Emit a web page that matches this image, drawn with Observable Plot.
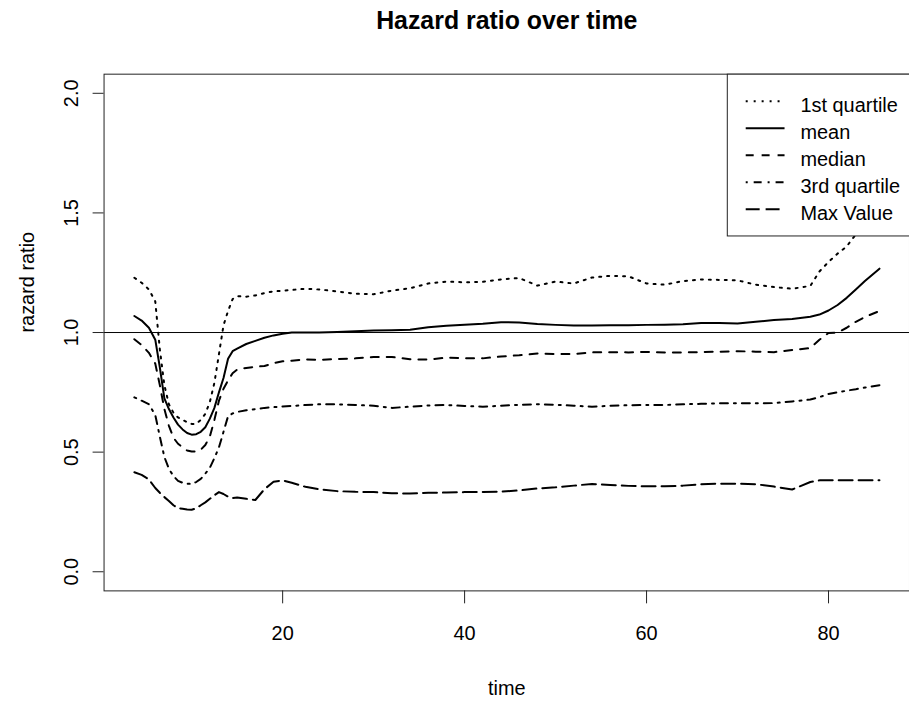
<!DOCTYPE html>
<html>
<head>
<meta charset="utf-8">
<script src="https://cdn.jsdelivr.net/npm/d3@7"></script>
<script src="https://cdn.jsdelivr.net/npm/@observablehq/plot@0.6"></script>
<style>
  html, body { margin: 0; padding: 0; background: #fff; overflow: hidden; }
  #chart svg { display: block; }
</style>
</head>
<body>
<div id="chart"></div>
<script>
// Hazard ratio summaries over follow-up time
const time = [3.7, 4.5, 5.3, 6.0, 6.5, 7.0, 7.5, 8.0, 8.5, 9.0,
  9.5, 10, 10.5, 11, 11.5, 12, 12.5, 13, 13.5, 14,
  14.5, 15, 16, 17, 18, 19, 20, 21, 22.5, 24,
  26, 28, 30, 32, 34, 36, 38, 40, 42, 44,
  46, 48, 50, 52, 54, 56, 58, 60, 62, 64,
  66, 68, 70, 72, 74, 76, 78, 79, 80, 81,
  82, 83, 84, 85.6];

const firstQuartile = [1.229, 1.208, 1.18, 1.13, 0.93, 0.78, 0.70, 0.665, 0.645, 0.635,
  0.625, 0.618, 0.618, 0.635, 0.66, 0.71, 0.79, 0.91, 1.03, 1.09,
  1.14, 1.152, 1.15, 1.155, 1.165, 1.172, 1.175, 1.178, 1.183, 1.18,
  1.172, 1.162, 1.16, 1.175, 1.185, 1.205, 1.213, 1.21, 1.212, 1.222,
  1.228, 1.196, 1.213, 1.205, 1.23, 1.237, 1.235, 1.205, 1.2, 1.215,
  1.222, 1.22, 1.218, 1.2, 1.19, 1.183, 1.195, 1.255, 1.295, 1.33,
  1.36, 1.41, 1.46, 1.55];

const mean = [1.069, 1.05, 1.02, 0.97, 0.855, 0.725, 0.68, 0.645, 0.615, 0.595,
  0.58, 0.573, 0.575, 0.585, 0.604, 0.64, 0.685, 0.75, 0.81, 0.89,
  0.922, 0.933, 0.952, 0.965, 0.978, 0.988, 0.995, 1.0, 1.0, 1.0,
  1.002, 1.005, 1.008, 1.01, 1.012, 1.022, 1.028, 1.033, 1.037, 1.043,
  1.042, 1.036, 1.032, 1.029, 1.029, 1.03, 1.03, 1.032, 1.033, 1.035,
  1.04, 1.04, 1.038, 1.045, 1.052, 1.057, 1.066, 1.075, 1.092, 1.115,
  1.145, 1.18, 1.215, 1.267];

const median = [0.972, 0.948, 0.915, 0.87, 0.78, 0.68, 0.61, 0.56, 0.535, 0.52,
  0.507, 0.503, 0.503, 0.51, 0.53, 0.565, 0.635, 0.715, 0.765, 0.80,
  0.83, 0.845, 0.852, 0.857, 0.86, 0.872, 0.88, 0.882, 0.888, 0.886,
  0.889, 0.892, 0.898, 0.898, 0.888, 0.887, 0.895, 0.893, 0.892, 0.9,
  0.905, 0.912, 0.91, 0.91, 0.917, 0.918, 0.917, 0.919, 0.917, 0.917,
  0.918, 0.92, 0.922, 0.92, 0.918, 0.927, 0.935, 0.97, 0.998, 1.0,
  1.02, 1.045, 1.065, 1.09];

const thirdQuartile = [0.729, 0.715, 0.70, 0.655, 0.565, 0.48, 0.43, 0.40, 0.38, 0.372,
  0.368, 0.367, 0.375, 0.388, 0.41, 0.435, 0.475, 0.52, 0.585, 0.65,
  0.662, 0.668, 0.675, 0.68, 0.685, 0.688, 0.691, 0.693, 0.697, 0.70,
  0.70, 0.697, 0.694, 0.685, 0.69, 0.695, 0.697, 0.693, 0.69, 0.694,
  0.698, 0.70, 0.698, 0.694, 0.69, 0.694, 0.696, 0.697, 0.697, 0.70,
  0.702, 0.704, 0.704, 0.704, 0.705, 0.712, 0.72, 0.73, 0.743, 0.75,
  0.757, 0.763, 0.77, 0.78];

const maxValue = [0.416, 0.405, 0.386, 0.35, 0.33, 0.312, 0.296, 0.278, 0.266, 0.263,
  0.26, 0.259, 0.265, 0.278, 0.29, 0.305, 0.32, 0.333, 0.325, 0.314,
  0.308, 0.31, 0.305, 0.30, 0.345, 0.376, 0.382, 0.372, 0.355, 0.345,
  0.337, 0.334, 0.333, 0.328, 0.327, 0.33, 0.331, 0.333, 0.333, 0.335,
  0.34, 0.348, 0.353, 0.36, 0.367, 0.363, 0.359, 0.357, 0.357, 0.36,
  0.366, 0.368, 0.368, 0.366, 0.356, 0.344, 0.375, 0.382, 0.382, 0.382,
  0.382, 0.382, 0.382, 0.382];

const seriesNames = ["1st quartile", "mean", "median", "3rd quartile", "Max Value"];
const xTicks = [20, 40, 60, 80];
const yTicks = [0, 0.5, 1, 1.5, 2];
const title = "Hazard ratio over time";
const xLabel = "time";
const yLabel = "razard ratio";

// line types: dotted, solid, dashed, dot-dash, long-dash
const series = [
  {name: seriesNames[0], values: firstQuartile, dash: "2 6"},
  {name: seriesNames[1], values: mean, dash: null},
  {name: seriesNames[2], values: median, dash: "8 8"},
  {name: seriesNames[3], values: thirdQuartile, dash: "2 6 8 6"},
  {name: seriesNames[4], values: maxValue, dash: "14 6"}
];

const rows = series.flatMap(s => time.map((t, i) => ({time: t, ratio: s.values[i], name: s.name})));

const font = "'Liberation Sans', Arial, Helvetica, sans-serif";

const chart = Plot.plot({
  width: 913,
  height: 703,
  marginLeft: 104,
  marginRight: 0,
  marginTop: 74,
  marginBottom: 110,
  style: {fontFamily: font, fontSize: "20px", color: "#000", background: "#fff"},
  x: {domain: [0.37, 88.9]},
  y: {domain: [-0.08, 2.08]},
  marks: [
    Plot.ruleY([1], {stroke: "#000", strokeWidth: 1}),
    ...series.map(s => Plot.line(rows.filter(d => d.name === s.name), {
      x: "time", y: "ratio", stroke: "#000", strokeWidth: 2,
      strokeDasharray: s.dash, strokeLinejoin: "round"
    })),
    Plot.frame({stroke: "#222", strokeWidth: 1}),
    Plot.axisX(xTicks, {tickSize: 13, tickPadding: 22, fontSize: 20, label: null, stroke: "#222"}),
    Plot.axisY(yTicks, {
      tickSize: 11, tickPadding: 15, tickFormat: d3.format(".1f"), tickRotate: -90,
      textAnchor: "middle", lineAnchor: "bottom", fontSize: 20, label: null, stroke: "#222"
    }),
    Plot.text([title], {frameAnchor: "top", dy: -45, lineAnchor: "bottom", fontWeight: "bold", fontSize: 25}),
    Plot.text([xLabel], {frameAnchor: "bottom", dy: 105, lineAnchor: "bottom", fontSize: 20}),
    Plot.text([yLabel], {frameAnchor: "left", dx: -70, rotate: -90, lineAnchor: "bottom", fontSize: 20})
  ]
});

document.getElementById("chart").appendChild(chart);

// legend box in the top-right corner of the panel
const lg = d3.select(chart).append("g")
  .attr("font-family", font)
  .attr("font-size", 20)
  .attr("text-anchor", "start");
lg.append("rect")
  .attr("x", 730.5).attr("y", 74.5)
  .attr("width", 200).attr("height", 162.5)
  .attr("fill", "#fff").attr("stroke", "#222");
series.forEach((s, i) => {
  const y = 101.7 + i * 27.1;
  lg.append("line")
    .attr("x1", 749).attr("x2", 788).attr("y1", y).attr("y2", y)
    .attr("stroke", "#000").attr("stroke-width", 2)
    .attr("stroke-dasharray", s.dash);
  lg.append("text")
    .attr("x", 804).attr("y", y + 10.5)
    .attr("fill", "#000")
    .style("text-anchor", "start")
    .text(s.name);
});
</script>
</body>
</html>
